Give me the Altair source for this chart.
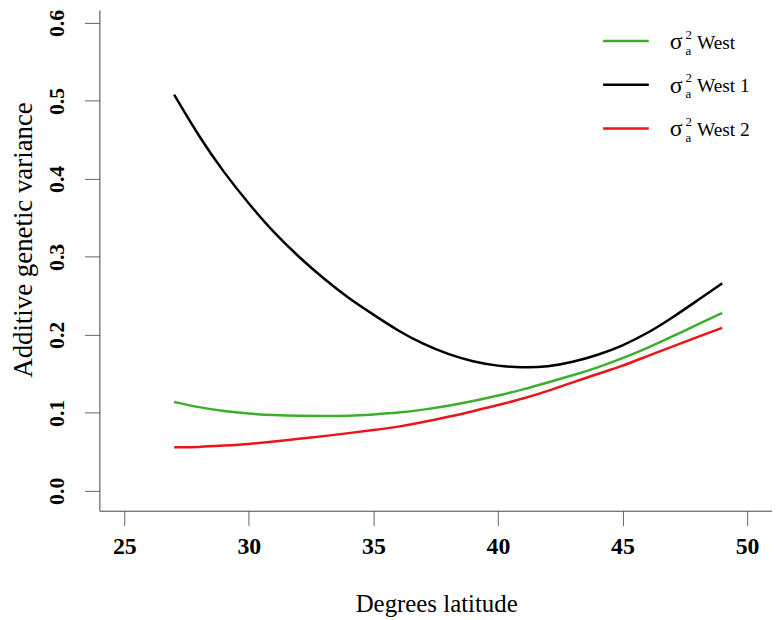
import altair as alt
import pandas as pd

# ---- data ----
lat = list(range(27, 50))
west = [0.114, 0.107, 0.102, 0.099, 0.097, 0.096, 0.096, 0.096, 0.098, 0.100,
        0.104, 0.109, 0.115, 0.122, 0.130, 0.139, 0.148, 0.158, 0.170, 0.183,
        0.198, 0.213, 0.228]
west1 = [0.508, 0.454, 0.408, 0.368, 0.331, 0.300, 0.272, 0.247, 0.226, 0.205,
         0.188, 0.175, 0.1655, 0.160, 0.158, 0.159, 0.165, 0.174, 0.186, 0.202,
         0.222, 0.244, 0.266]
west2 = [0.056, 0.056, 0.058, 0.060, 0.063, 0.067, 0.070, 0.074, 0.078, 0.082,
         0.088, 0.095, 0.102, 0.110, 0.118, 0.128, 0.139, 0.150, 0.160, 0.173,
         0.185, 0.197, 0.209]

series_names = ["West", "West 1", "West 2"]
series_colors = ["#3cae2c", "#000000", "#ea1419"]
x_ticks = [25, 30, 35, 40, 45, 50]
y_ticks = [0.0, 0.1, 0.2, 0.3, 0.4, 0.5, 0.6]

rows = []
for name, vals in zip(series_names, [west, west1, west2]):
    for x, v in zip(lat, vals):
        rows.append({"lat": x, "var": v, "series": name})
df = pd.DataFrame(rows)

FONT = "Liberation Serif, Times New Roman, serif"
W, H = 677, 504

color_scale = alt.Scale(domain=series_names, range=series_colors)

lines = alt.Chart(df).mark_line(strokeWidth=2.5, interpolate="basis").encode(
    x=alt.X("lat:Q",
            scale=alt.Scale(domain=[24, 51], nice=False, zero=False),
            axis=alt.Axis(values=x_ticks, format="d", title="Degrees latitude",
                          grid=False, tickSize=15, labelPadding=28,
                          labelBaseline="alphabetic", labelFontSize=24,
                          labelFontWeight="bold", labelFont=FONT,
                          labelColor="#000", titleFont=FONT, titleFontSize=25,
                          titleFontWeight="normal", titleColor="#000",
                          titleX=339, titleY=101, titleBaseline="alphabetic",
                          domainColor="#444", tickColor="#666", labelFlush=False)),
    y=alt.Y("var:Q",
            scale=alt.Scale(domain=[-0.02548, 0.61656], nice=False, zero=False),
            axis=alt.Axis(values=y_ticks, format=".1f",
                          title="Additive genetic variance",
                          grid=False, tickSize=15, labelPadding=21,
                          labelAngle=270, labelAlign="center",
                          labelBaseline="alphabetic", labelFontSize=22,
                          labelFontWeight="bold", labelFont=FONT,
                          labelColor="#000", titleFont=FONT, titleFontSize=27,
                          titleFontWeight="normal", titleColor="#000",
                          titleAngle=270, titleAlign="center",
                          titleBaseline="alphabetic", titleX=-68, titleY=231,
                          domainColor="#444", tickColor="#666", labelFlush=False)),
    color=alt.Color("series:N", scale=color_scale, legend=None),
    detail="series:N",
)

layers = [lines]
for i, name in enumerate(series_names):
    ly = 31.3 + 44 * i
    one = alt.Chart(pd.DataFrame({"series": [name]}))
    layers.append(one.mark_rule(strokeWidth=2.5).encode(
        x=alt.value(507), x2=alt.value(553), y=alt.value(ly),
        color=alt.Color("series:N", scale=color_scale, legend=None)))
    layers.append(one.mark_text(align="left", baseline="alphabetic", font=FONT,
                                fontSize=24, color="#000").encode(
        x=alt.value(574), y=alt.value(ly + 8), text=alt.value("σ")))
    layers.append(one.mark_text(align="left", baseline="alphabetic", font=FONT,
                                fontSize=13, color="#000").encode(
        x=alt.value(590), y=alt.value(ly - 2.5), text=alt.value("2")))
    layers.append(one.mark_text(align="left", baseline="alphabetic", font=FONT,
                                fontSize=13, color="#000").encode(
        x=alt.value(590), y=alt.value(ly + 13.5), text=alt.value("a")))
    layers.append(one.mark_text(align="left", baseline="alphabetic", font=FONT,
                                fontSize=19.5, color="#000").encode(
        x=alt.value(601.5), y=alt.value(ly + 7.5), text=alt.value(name)))

chart = alt.layer(*layers).properties(
    width=W, height=H,
    autosize=alt.AutoSizeParams(type="none"),
    padding={"left": 92, "top": 0, "right": 0, "bottom": 110},
    background="white",
).configure_view(stroke=None)

chart.save("out.html", embed_options={"renderer": "svg", "actions": False})
